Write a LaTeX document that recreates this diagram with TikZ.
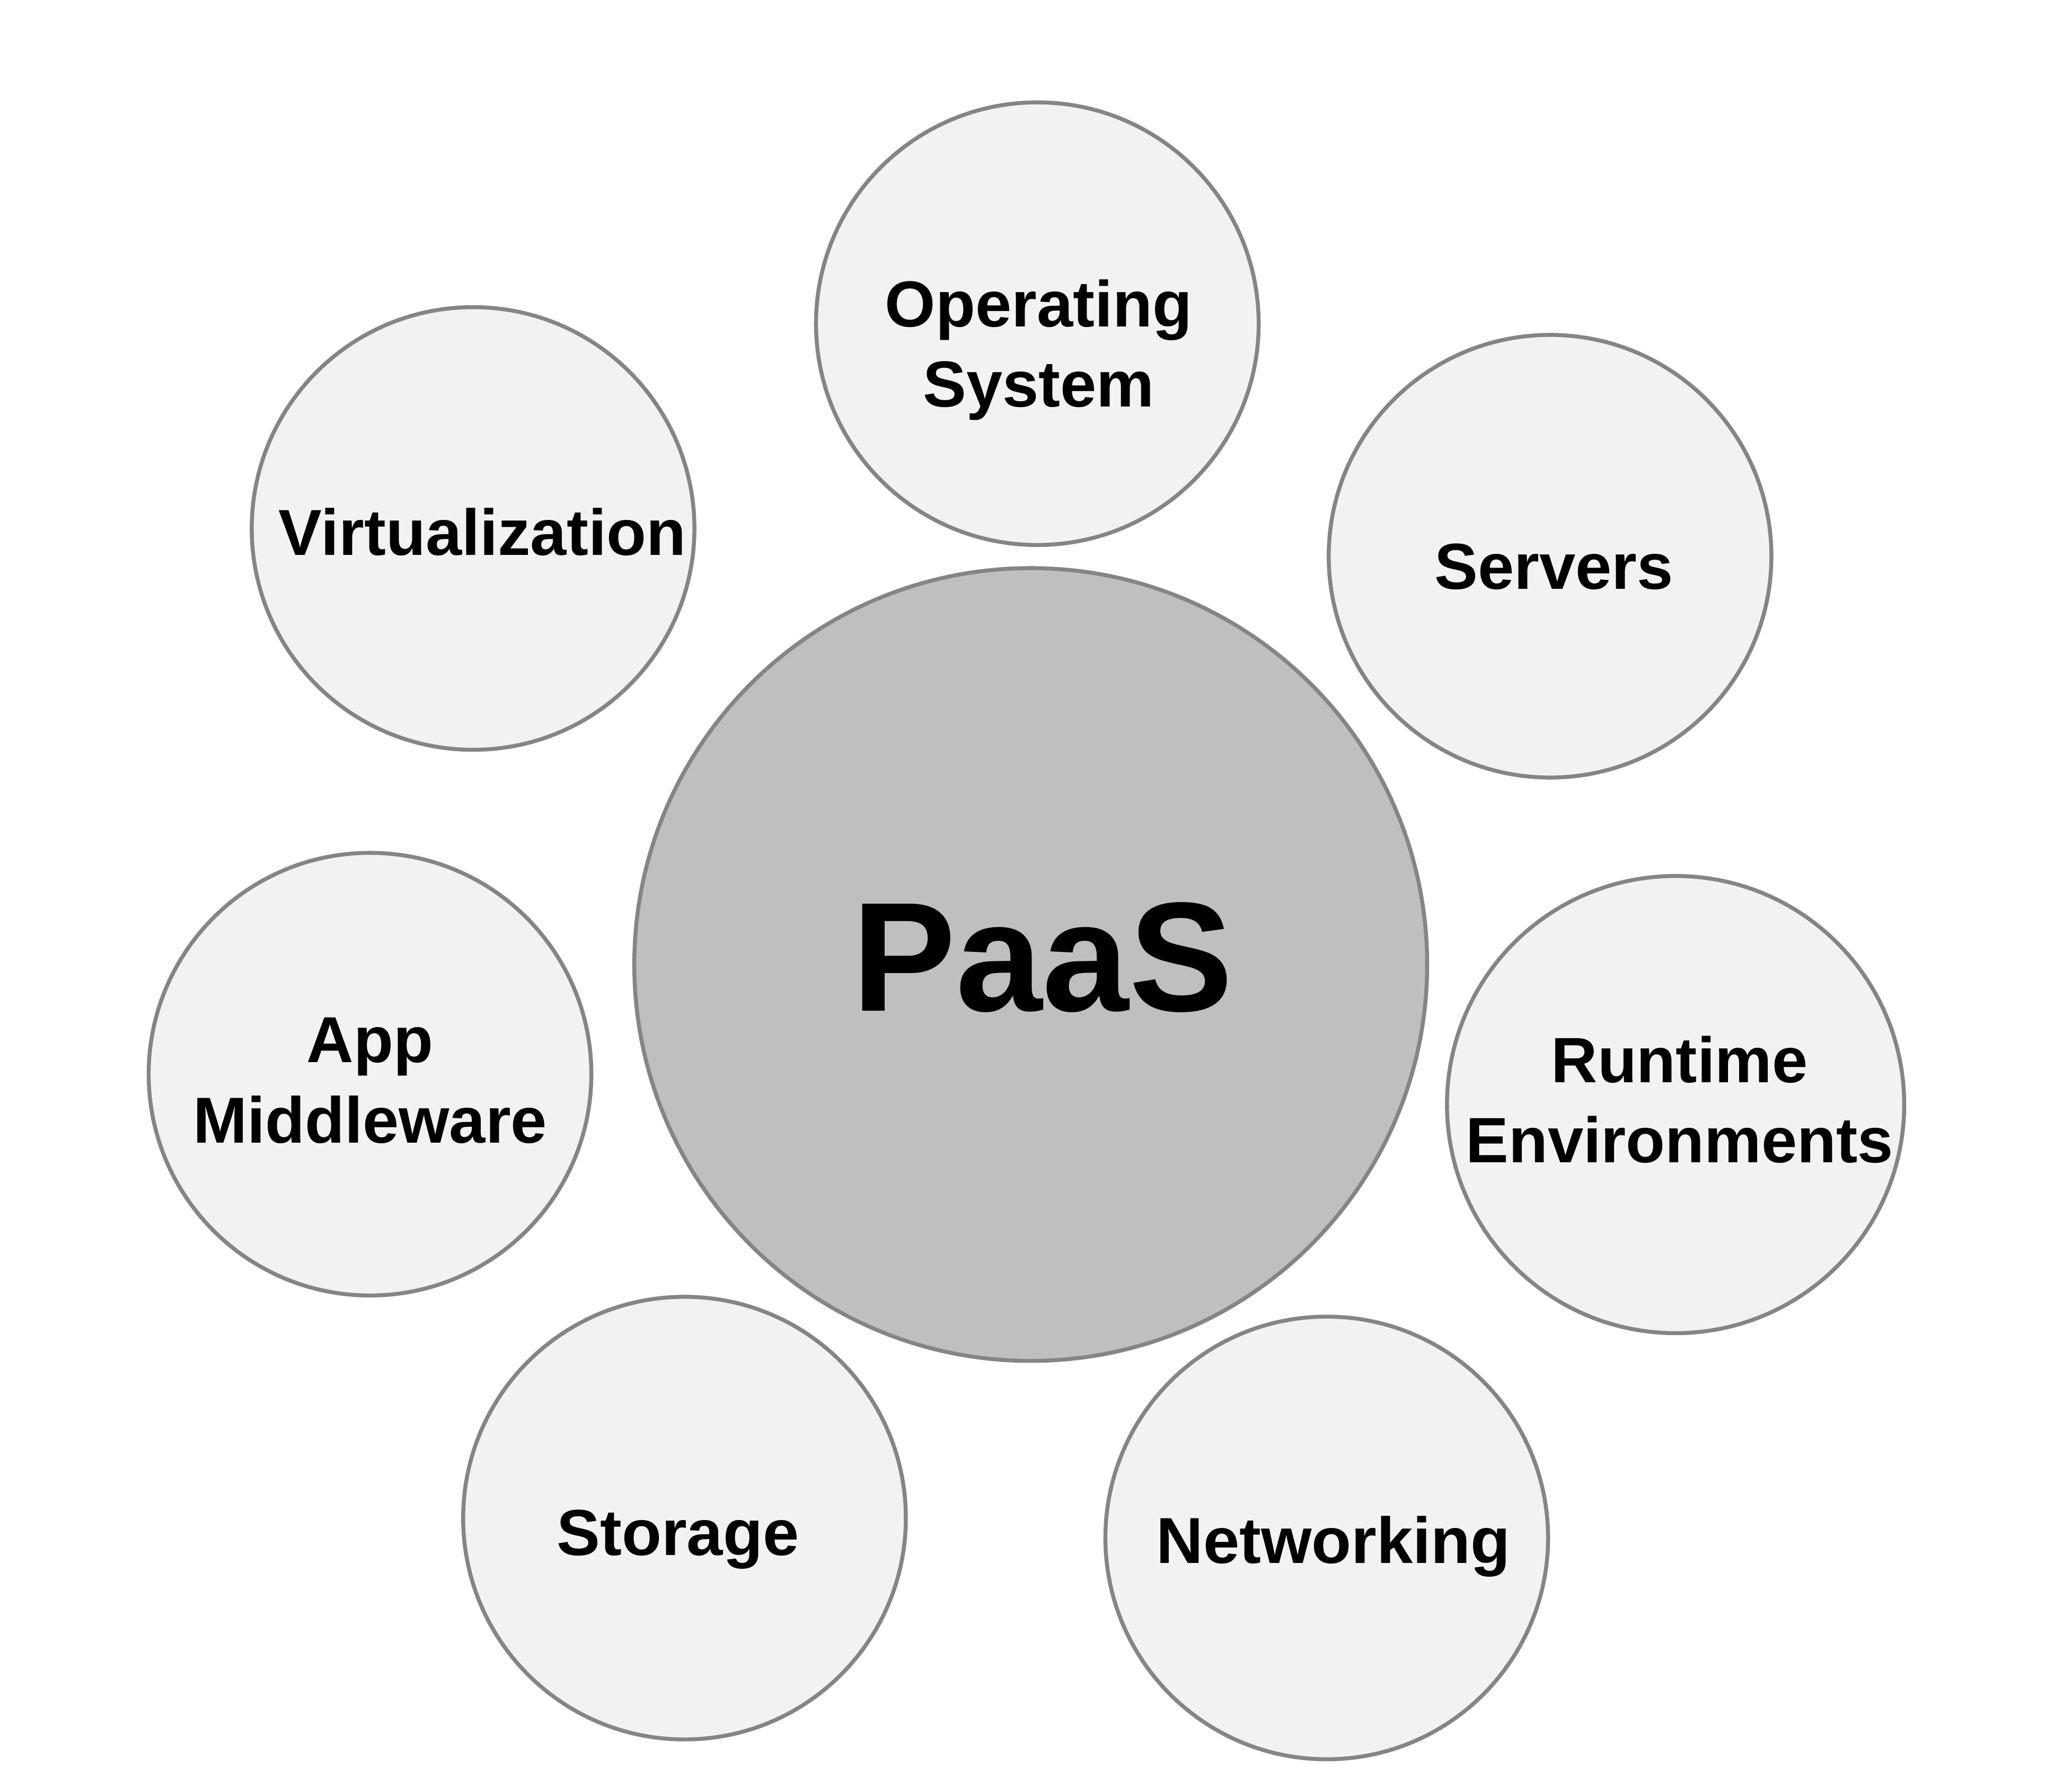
\documentclass[tikz,border=0pt]{standalone}
\usepackage{fontspec}
\setmainfont{Liberation Sans}
\usepackage{tikz}
\definecolor{ringgray}{RGB}{133,133,133}
\definecolor{bubblefill}{RGB}{242,242,242}
\definecolor{corefill}{RGB}{191,191,191}

\begin{document}
\begin{tikzpicture}[
  bubble/.style={circle, draw=ringgray, line width=0.85pt, fill=bubblefill,
                 inner sep=0pt, minimum size=3.35cm},
  lbl/.style={font=\fontsize{14}{17.3}\selectfont\bfseries, align=center, anchor=base}]

\useasboundingbox (0,0) rectangle (15.68,13.37);

% ---- Core platform ----
\node[bubble, fill=corefill, minimum size=6.0cm] (paas) at (7.80,6.07) {};
\node[anchor=base, font=\fontsize{33.5}{40}\selectfont\bfseries] (paasT) at (7.89,5.72) {PaaS};

% ---- Surrounding layers ----
\node[bubble] (os)   at (7.85,10.92) {};
\node[bubble] (srv)  at (11.73,9.16) {};
\node[bubble] (virt) at (3.58,9.37) {};
\node[bubble] (app)  at (2.80,5.24) {};
\node[bubble, minimum size=3.46cm] (rt) at (12.68,5.01) {};
\node[bubble] (stor) at (5.18,1.88) {};
\node[bubble] (net)  at (10.04,1.73) {};

% ---- Layer names (base = last line) ----
\node[lbl] (osT)   at (7.86,10.29) {Operating\\System};
\node[lbl] (srvT)  at (11.76,8.91) {Servers};
\node[lbl] (virtT) at (3.65,9.17) {Virtualization};
\node[lbl] (appT)  at (2.80,4.72) {App\\Middleware};
\node[lbl, font=\fontsize{13.8}{17.3}\selectfont\bfseries] (rtT) at (12.71,4.57) {Runtime\\Environments};
\node[lbl] (storT) at (5.13,1.60) {Storage};
\node[lbl] (netT)  at (10.09,1.54) {Networking};

\end{tikzpicture}
\end{document}
